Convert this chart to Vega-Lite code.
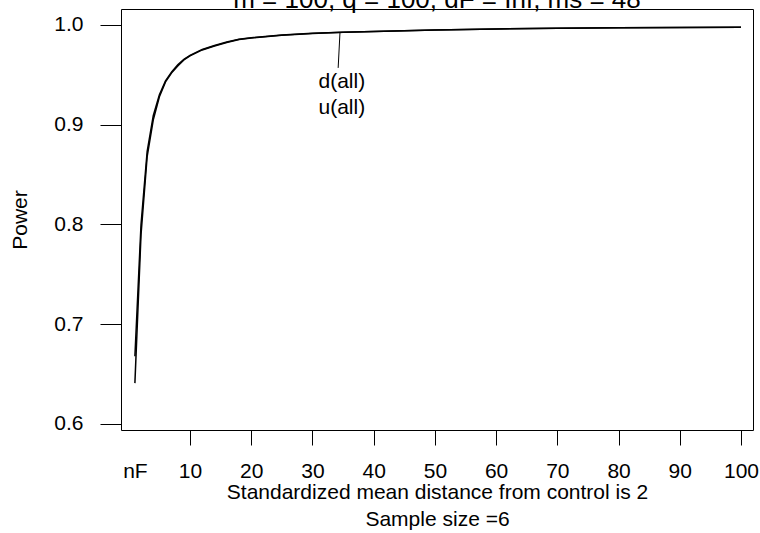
{
  "$schema": "https://vega.github.io/schema/vega-lite/v6.json",
  "width": 632,
  "height": 421,
  "autosize": {"type": "none"},
  "padding": {"left": 121, "top": 9, "right": 7, "bottom": 103},
  "background": "white",
  "config": {
    "view": {"stroke": "black", "strokeWidth": 1},
    "font": "Liberation Sans",
    "text": {"font": "Liberation Sans"}
  },
  "layer": [
    {
      "data": {
        "values": [
          {"series": "d(all)", "size": 1, "power": 0.641},
          {"series": "d(all)", "size": 2, "power": 0.79},
          {"series": "d(all)", "size": 3, "power": 0.868},
          {"series": "d(all)", "size": 4, "power": 0.905},
          {"series": "d(all)", "size": 5, "power": 0.928},
          {"series": "d(all)", "size": 6, "power": 0.943},
          {"series": "d(all)", "size": 7, "power": 0.952},
          {"series": "d(all)", "size": 8, "power": 0.959},
          {"series": "d(all)", "size": 9, "power": 0.965},
          {"series": "d(all)", "size": 10, "power": 0.969},
          {"series": "d(all)", "size": 12, "power": 0.975},
          {"series": "d(all)", "size": 14, "power": 0.979},
          {"series": "d(all)", "size": 16, "power": 0.9825},
          {"series": "d(all)", "size": 18, "power": 0.9855},
          {"series": "d(all)", "size": 20, "power": 0.987},
          {"series": "d(all)", "size": 25, "power": 0.9898},
          {"series": "d(all)", "size": 30, "power": 0.9915},
          {"series": "d(all)", "size": 35, "power": 0.9927},
          {"series": "d(all)", "size": 40, "power": 0.9935},
          {"series": "d(all)", "size": 50, "power": 0.995},
          {"series": "d(all)", "size": 60, "power": 0.996},
          {"series": "d(all)", "size": 70, "power": 0.9967},
          {"series": "d(all)", "size": 80, "power": 0.9972},
          {"series": "d(all)", "size": 90, "power": 0.9975},
          {"series": "d(all)", "size": 100, "power": 0.9977},
          {"series": "u(all)", "size": 1, "power": 0.668},
          {"series": "u(all)", "size": 2, "power": 0.8},
          {"series": "u(all)", "size": 3, "power": 0.873},
          {"series": "u(all)", "size": 4, "power": 0.909},
          {"series": "u(all)", "size": 5, "power": 0.93},
          {"series": "u(all)", "size": 6, "power": 0.944},
          {"series": "u(all)", "size": 7, "power": 0.953},
          {"series": "u(all)", "size": 8, "power": 0.96},
          {"series": "u(all)", "size": 9, "power": 0.9655},
          {"series": "u(all)", "size": 10, "power": 0.9695},
          {"series": "u(all)", "size": 12, "power": 0.9755},
          {"series": "u(all)", "size": 14, "power": 0.9795},
          {"series": "u(all)", "size": 16, "power": 0.983},
          {"series": "u(all)", "size": 18, "power": 0.9858},
          {"series": "u(all)", "size": 20, "power": 0.9872},
          {"series": "u(all)", "size": 25, "power": 0.99},
          {"series": "u(all)", "size": 30, "power": 0.9917},
          {"series": "u(all)", "size": 35, "power": 0.9928},
          {"series": "u(all)", "size": 40, "power": 0.9936},
          {"series": "u(all)", "size": 50, "power": 0.9951},
          {"series": "u(all)", "size": 60, "power": 0.9961},
          {"series": "u(all)", "size": 70, "power": 0.9968},
          {"series": "u(all)", "size": 80, "power": 0.9973},
          {"series": "u(all)", "size": 90, "power": 0.9976},
          {"series": "u(all)", "size": 100, "power": 0.9978}
        ]
      },
      "mark": {"type": "line", "color": "black", "strokeWidth": 1.5},
      "encoding": {
        "x": {
          "field": "size",
          "type": "quantitative",
          "scale": {"domain": [-1.2705, 101.96], "nice": false, "zero": false},
          "axis": {
            "values": [1, 10, 20, 30, 40, 50, 60, 70, 80, 90, 100],
            "labelExpr": "datum.value == 1 ? 'nF' : datum.label",
            "tickOpacity": {"condition": {"test": "datum.value == 1", "value": 0}, "value": 1},
            "domain": false,
            "grid": false,
            "tickColor": "black",
            "tickSize": 15,
            "tickWidth": 1,
            "labelPadding": 15,
            "labelFontSize": 21,
            "labelColor": "black",
            "labelFlush": false,
            "labelOverlap": false,
            "title": ["Standardized mean distance from control is 2", "Sample size =6"],
            "titleFontSize": 21,
            "titleFontWeight": "normal",
            "titleColor": "black",
            "titlePadding": 0,
            "titleLineHeight": 27
          }
        },
        "y": {
          "field": "power",
          "type": "quantitative",
          "scale": {"domain": [0.59398, 1.01604], "nice": false, "zero": false},
          "axis": {
            "values": [0.6, 0.7, 0.8, 0.9, 1.0],
            "format": ".1f",
            "domain": false,
            "grid": false,
            "tickColor": "black",
            "tickSize": 21,
            "tickWidth": 1,
            "labelPadding": 17,
            "labelFontSize": 21,
            "labelColor": "black",
            "labelFlush": false,
            "labelOverlap": false,
            "title": "Power",
            "titleFontSize": 21,
            "titleFontWeight": "normal",
            "titleColor": "black",
            "titlePadding": 23
          }
        },
        "detail": {"field": "series"}
      }
    },
    {
      "data": {"values": [{"x": 34.5, "y": 0.9927, "x2": 34.2, "y2": 0.957}]},
      "mark": {"type": "rule", "color": "black", "strokeWidth": 1},
      "encoding": {
        "x": {"field": "x", "type": "quantitative"},
        "y": {"field": "y", "type": "quantitative"},
        "x2": {"field": "x2"},
        "y2": {"field": "y2"}
      }
    },
    {
      "data": {"values": [{"x": 34.8, "y": 0.943, "label": "d(all)"}, {"x": 34.8, "y": 0.917, "label": "u(all)"}]},
      "mark": {"type": "text", "fontSize": 21, "color": "black", "align": "center", "baseline": "middle"},
      "encoding": {
        "x": {"field": "x", "type": "quantitative"},
        "y": {"field": "y", "type": "quantitative"},
        "text": {"field": "label"}
      }
    },
    {
      "data": {"values": [{"x": 50.345, "y": 1.017, "label": "m = 100, q = 100, dF = Inf, ms = 48"}]},
      "mark": {"type": "text", "fontSize": 26, "color": "black", "align": "center", "baseline": "alphabetic", "clip": false},
      "encoding": {
        "x": {"field": "x", "type": "quantitative"},
        "y": {"field": "y", "type": "quantitative"},
        "text": {"field": "label"}
      }
    }
  ]
}
